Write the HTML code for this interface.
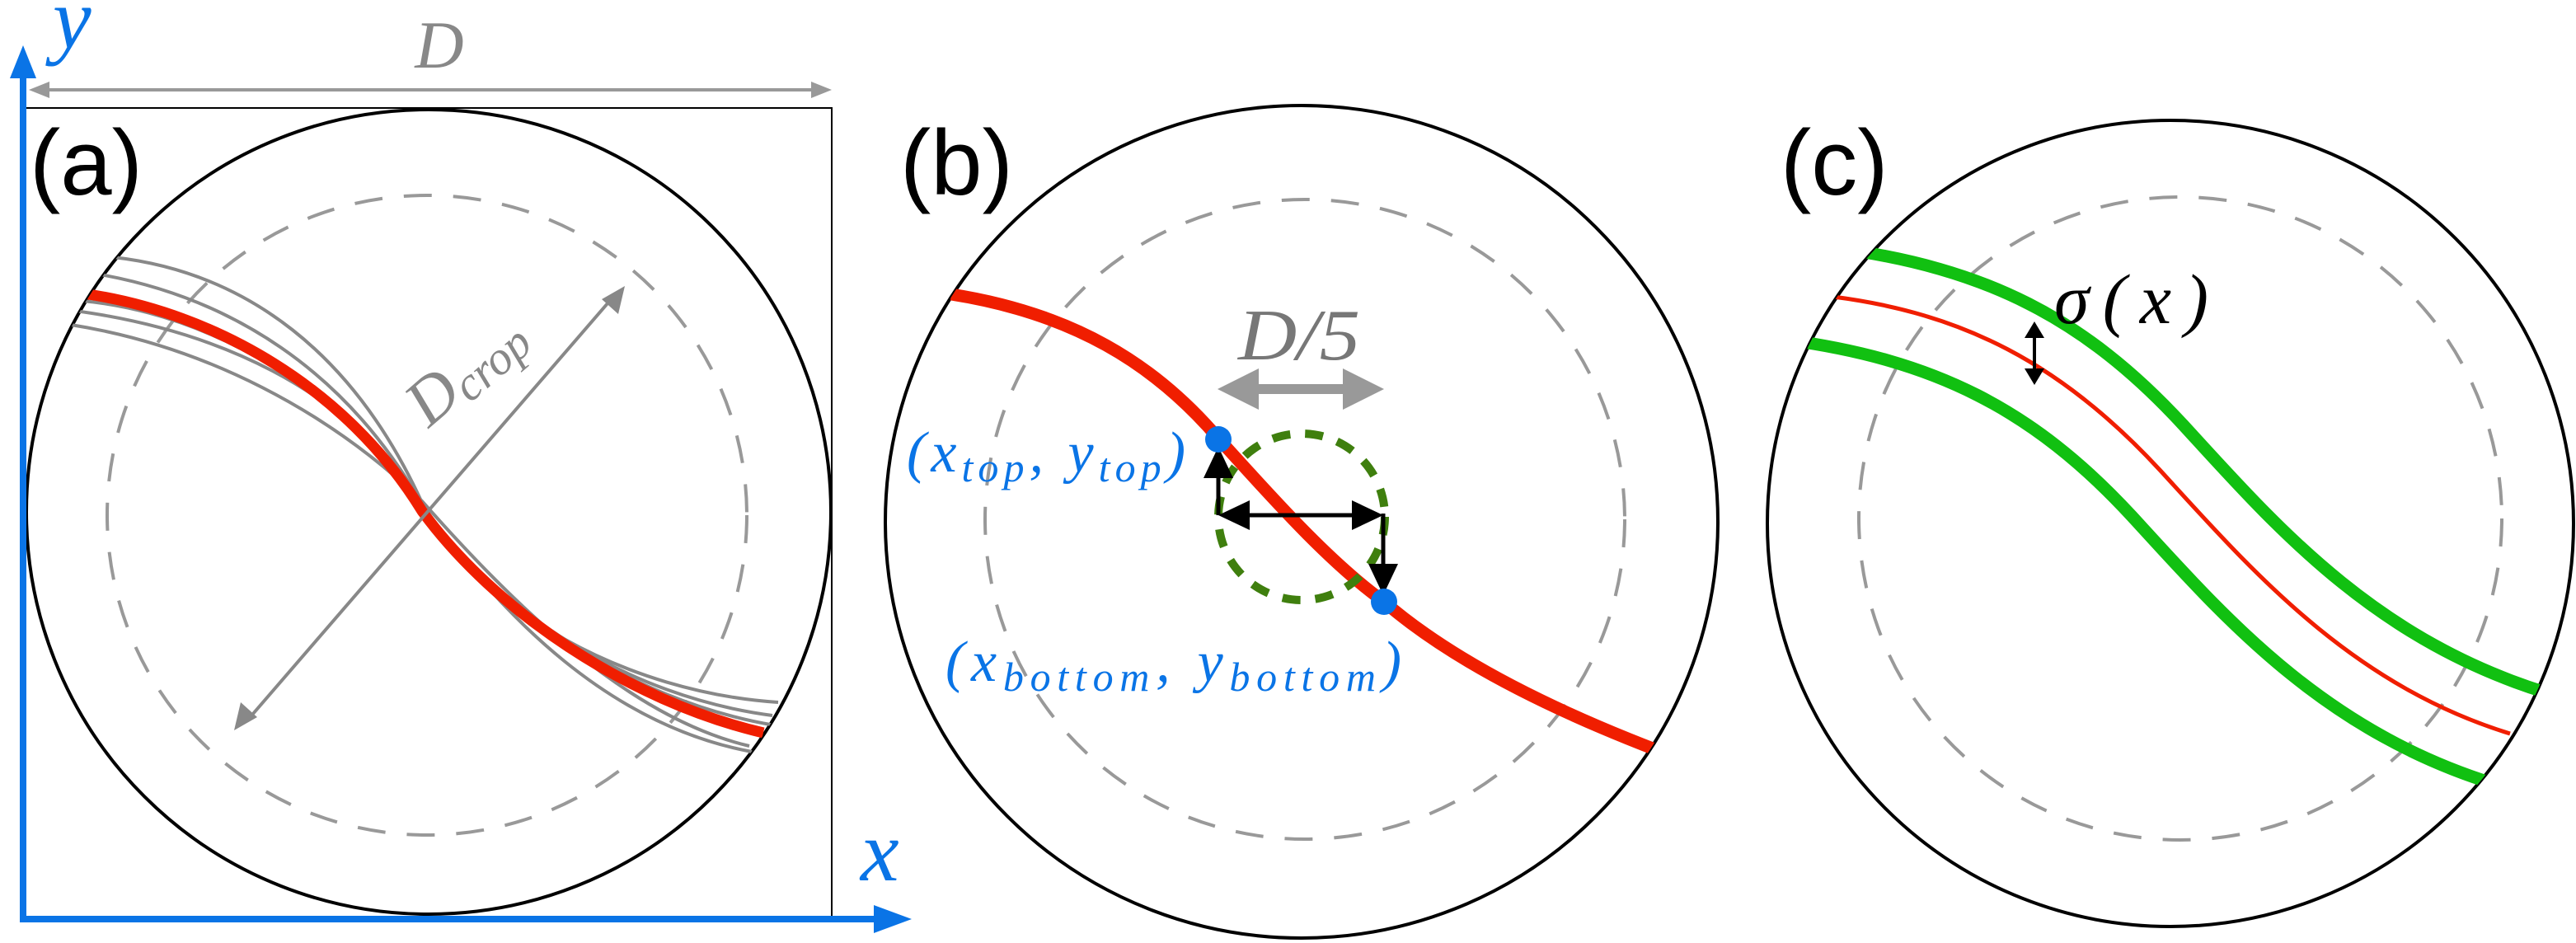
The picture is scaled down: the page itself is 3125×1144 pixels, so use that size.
<!DOCTYPE html>
<html><head><meta charset="utf-8"><style>
html,body{margin:0;padding:0;background:#fff}
svg{display:block}
.lbl{font-family:"Liberation Sans",sans-serif;fill:#000}
.m{font-family:"Liberation Serif",serif;font-style:italic}
</style></head><body>
<svg width="3125" height="1144" viewBox="0 0 3125 1144" xmlns="http://www.w3.org/2000/svg">
<defs>
<clipPath id="ca"><circle cx="520" cy="621" r="488"/></clipPath>
<clipPath id="cb"><circle cx="1579" cy="633" r="505"/></clipPath>
<clipPath id="cc"><circle cx="2633" cy="635" r="489"/></clipPath>
</defs>

<!-- Panel (a) -->
<rect x="30" y="131" width="979" height="984" fill="none" stroke="#000" stroke-width="2"/>
<circle cx="520" cy="621" r="488" fill="none" stroke="#000" stroke-width="4"/>
<circle cx="518" cy="625" r="388" fill="none" stroke="#999" stroke-width="4" stroke-dasharray="34 26"/>
<g clip-path="url(#ca)" fill="none" stroke="#888" stroke-width="4">
<path d="M137,312 C300,330 430,430 512,610 C580,740 760,840 944,852"/>
<path d="M116,332 C280,360 420,450 512,612 C600,740 760,845 937,868"/>
<path d="M91,377 C260,400 420,470 512,612 C610,750 740,880 912,912"/>
<path d="M86,394 C250,420 400,500 512,608 C620,730 760,870 909,905"/>
<path d="M100,365 C260,380 420,480 512,615 C590,730 760,850 940,880"/>
</g>
<path clip-path="url(#ca)" d="M107,357 C260,380 420,470 512,620 C600,740 760,850 926,889" fill="none" stroke="#f01e00" stroke-width="13"/>
<!-- Dcrop arrow -->
<line x1="300" y1="874" x2="744" y2="360" stroke="#888" stroke-width="4"/>
<polygon points="284,886 292,852 312,870" fill="#888"/>
<polygon points="758,347 750,381 730,363" fill="#888"/>
<text class="m" x="0" y="0" font-size="80" fill="#888" transform="translate(520,520) rotate(-41)">D<tspan font-size="58" dy="10">crop</tspan></text>
<!-- D arrow -->
<line x1="50" y1="109" x2="994" y2="109" stroke="#999" stroke-width="4"/>
<polygon points="35,109 60,99 60,119" fill="#999"/>
<polygon points="1009,109 984,99 984,119" fill="#999"/>
<text class="m" x="533" y="82" font-size="82" fill="#888" text-anchor="middle">D</text>
<!-- axes -->
<line x1="28" y1="1115" x2="28" y2="90" stroke="#0a74e6" stroke-width="8"/>
<polygon points="28,55 12,95 44,95" fill="#0a74e6"/>
<line x1="24" y1="1115" x2="1070" y2="1115" stroke="#0a74e6" stroke-width="8"/>
<polygon points="1106,1115 1060,1098 1060,1132" fill="#0a74e6"/>
<text class="m" x="64" y="58" font-size="105" fill="#0a74e6">y</text>
<text class="m" x="1044" y="1068" font-size="105" fill="#0a74e6">x</text>
<text class="lbl" x="36" y="236" font-size="112">(a)</text>

<!-- Panel (b) -->
<circle cx="1579" cy="633" r="505" fill="none" stroke="#000" stroke-width="4"/>
<circle cx="1583" cy="630" r="388" fill="none" stroke="#999" stroke-width="4" stroke-dasharray="34 26"/>
<path clip-path="url(#cb)" d="M1154,357 C1300,380 1400,440 1479,533 C1540,600 1610,680 1679,730 C1760,800 1880,860 2010,910" fill="none" stroke="#f01e00" stroke-width="15"/>
<circle cx="1579" cy="627" r="101" fill="none" stroke="#3f7f0e" stroke-width="10" stroke-dasharray="22 18"/>
<!-- black arrows -->
<line x1="1478" y1="625" x2="1478" y2="575" stroke="#000" stroke-width="5"/>
<polygon points="1478,542 1460,580 1496,580" fill="#000"/>
<line x1="1510" y1="625" x2="1646" y2="625" stroke="#000" stroke-width="5"/>
<polygon points="1478,625 1516,607 1516,643" fill="#000"/>
<polygon points="1678,625 1640,607 1640,643" fill="#000"/>
<line x1="1678" y1="623" x2="1678" y2="690" stroke="#000" stroke-width="5"/>
<polygon points="1678,722 1660,684 1696,684" fill="#000"/>
<circle cx="1478" cy="533" r="16" fill="#0a74e6"/>
<circle cx="1679" cy="730" r="16" fill="#0a74e6"/>
<!-- gray D/5 arrow -->
<line x1="1520" y1="472" x2="1636" y2="472" stroke="#999" stroke-width="12"/>
<polygon points="1477,472 1527,447 1527,497" fill="#999"/>
<polygon points="1679,472 1629,447 1629,497" fill="#999"/>
<text class="m" x="1502" y="436" font-size="88" fill="#777" textLength="148" lengthAdjust="spacingAndGlyphs">D/5</text>
<text class="m" x="1100" y="572" font-size="70" fill="#0a74e6" textLength="338" lengthAdjust="spacing">(x<tspan font-size="50" dy="12">top</tspan><tspan dy="-12">, y</tspan><tspan font-size="50" dy="12">top</tspan><tspan dy="-12">)</tspan></text>
<text class="m" x="1147" y="826" font-size="70" fill="#0a74e6" textLength="553" lengthAdjust="spacing">(x<tspan font-size="50" dy="12">bottom</tspan><tspan dy="-12">, y</tspan><tspan font-size="50" dy="12">bottom</tspan><tspan dy="-12">)</tspan></text>
<text class="lbl" x="1092" y="236" font-size="112">(b)</text>

<!-- Panel (c) -->
<circle cx="2633" cy="635" r="489" fill="none" stroke="#000" stroke-width="4"/>
<circle cx="2645" cy="629" r="390" fill="none" stroke="#999" stroke-width="4" stroke-dasharray="34 26"/>
<g clip-path="url(#cc)" fill="none">
<path d="M2224,360 C2380,380 2500,440 2620,570 C2730,690 2850,830 3045,890" stroke="#f01e00" stroke-width="5"/>
<path transform="translate(28,-55)" d="M2200,356 C2380,380 2500,440 2620,570 C2730,690 2850,830 3060,895" stroke="#11c011" stroke-width="15"/>
<path transform="translate(-34,56)" d="M2200,356 C2380,380 2500,440 2620,570 C2730,690 2850,830 3060,895" stroke="#11c011" stroke-width="15"/>
</g>
<line x1="2468" y1="405" x2="2468" y2="452" stroke="#000" stroke-width="4"/>
<polygon points="2468,390 2456,410 2480,410" fill="#000"/>
<polygon points="2468,467 2456,447 2480,447" fill="#000"/>
<text class="m" x="2492" y="392" font-size="86" fill="#000" textLength="187" lengthAdjust="spacing">σ(x)</text>
<text class="lbl" x="2160" y="236" font-size="112">(c)</text>
</svg>
</body></html>
